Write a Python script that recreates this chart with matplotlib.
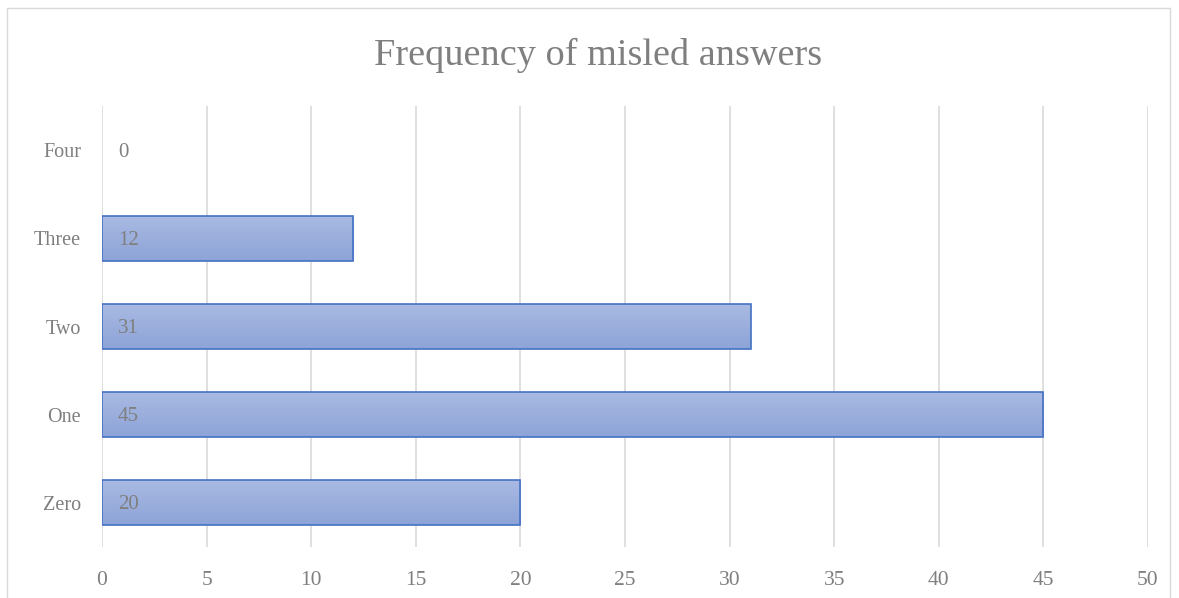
import matplotlib
matplotlib.use("Agg")
from matplotlib import pyplot as plt
from matplotlib.patches import Rectangle
import numpy as np

categories = ["Zero", "One", "Two", "Three", "Four"]
counts = [20, 45, 31, 12, 0]
x_ticks = [0, 5, 10, 15, 20, 25, 30, 35, 40, 45, 50]

plt.rcParams["font.family"] = ["Liberation Serif", "DejaVu Serif"]
grey = "#7f7f7f"

fig = plt.figure(figsize=(11.79, 5.98), dpi=100)
ax = fig.add_axes([0.0865, 0.0853, 0.8872, 0.7374])

# light frame round the chart, as in the spreadsheet export
fig.patches.append(Rectangle((7 / 1179, -0.05), 1163 / 1179, 1.05 - 8 / 598,
                             transform=fig.transFigure, fill=False,
                             edgecolor="#d9d9d9", linewidth=1.0))

grad = np.linspace(0, 1, 100).reshape(-1, 1)
cmap = matplotlib.colors.LinearSegmentedColormap.from_list(
    "bar", ["#a9b9e2", "#8da4d8"])
h = 0.51
for i, (cat, v) in enumerate(zip(categories, counts)):
    if v > 0:
        ax.imshow(grad, extent=(0, v, i - h / 2, i + h / 2), cmap=cmap,
                  aspect="auto", origin="upper", zorder=2)
        ax.add_patch(Rectangle((0, i - h / 2), v, h, fill=False,
                               edgecolor="#4472c4", linewidth=1.2, zorder=3))
    ax.annotate(str(v), (0, i), xytext=(11.5, -1.5), textcoords="offset points",
                ha="left", va="center", fontsize=15, color=grey, zorder=4)

ax.set_xlim(0, 50)
ax.set_ylim(-0.5, 4.5)
ax.set_xticks(x_ticks)
ax.set_yticks(range(len(categories)))
ax.set_yticklabels(categories)
ax.grid(axis="x", color="#d9d9d9", linewidth=1.2, zorder=0)
ax.set_axisbelow(True)
for s in ax.spines.values():
    s.set_visible(False)
ax.tick_params(axis="both", length=0, labelsize=14.5, labelcolor=grey)
ax.tick_params(axis="x", pad=17, labelsize=15.5)
ax.tick_params(axis="y", pad=15)

fig.text(0.507, 0.907, "Frequency of misled answers", ha="center",
         va="center", fontsize=27.5, color=grey)

fig.savefig("out.png", dpi=100)
